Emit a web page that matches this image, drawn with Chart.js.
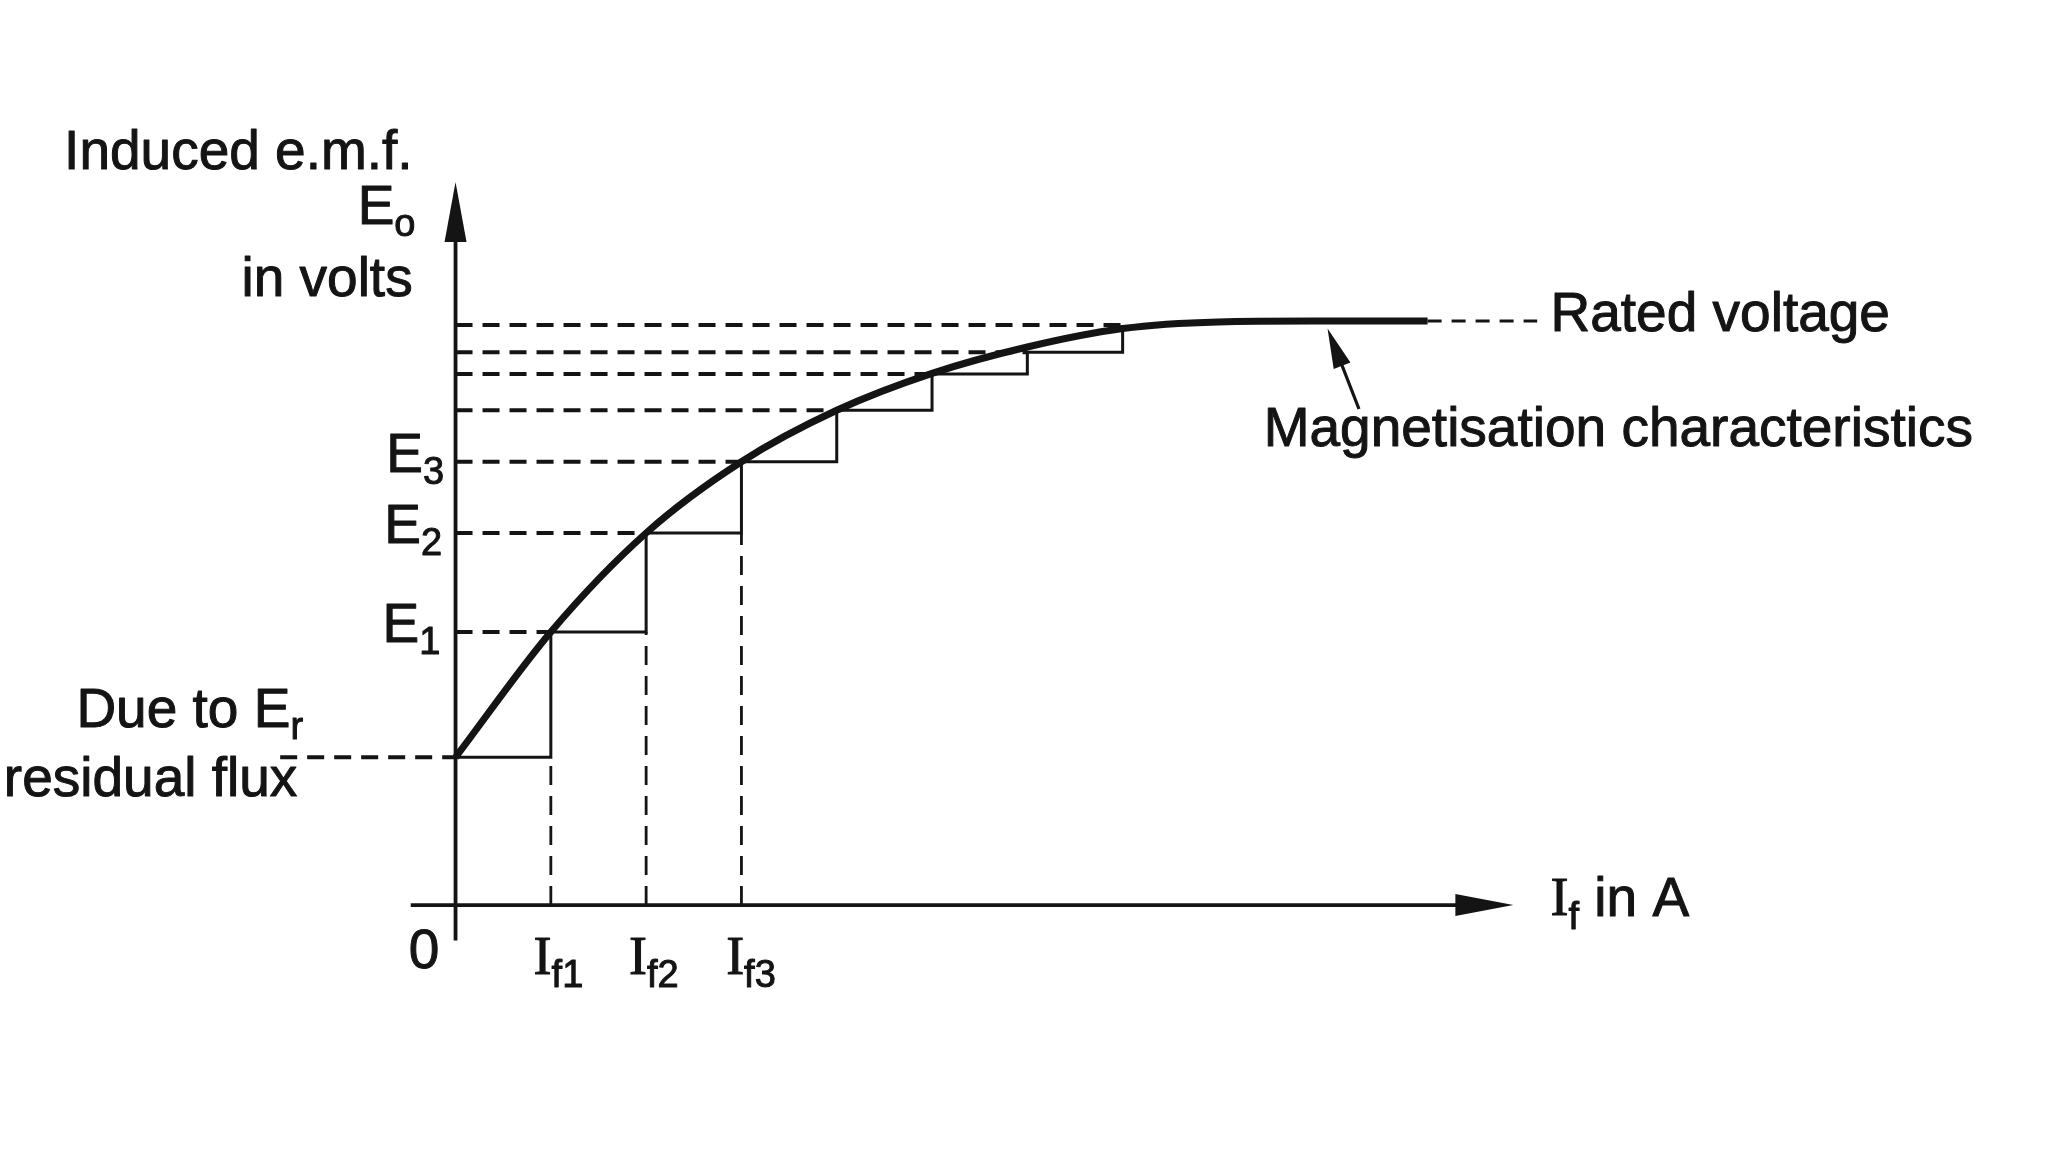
<!DOCTYPE html>
<html>
<head>
<meta charset="utf-8">
<script src="https://cdn.jsdelivr.net/npm/chart.js@4.4.0/dist/chart.umd.min.js"></script>
<style>
html, body { margin: 0; padding: 0; background: #fff; }
#wrap { width: 2048px; height: 1152px; }
</style>
</head>
<body>
<div id="wrap"><canvas id="myCanvas"></canvas></div>
<script>
// field current at each build-up step (If1, If2, ...) and the e.m.f. level of each step
const fieldCurrent = [0, 1, 2, 3, 4, 5, 6, 7];
const emf = [56, 103.5, 141, 168, 187.5, 201.3, 209.5, 219.8];
// magnetisation curve (open circuit characteristic)
const curveCurrent = [0, 1, 2, 3, 4, 5, 6, 7, 8, 9, 10.2];
const curveEmf = [56, 103.5, 141, 168, 187.5, 201.5, 211.5, 218.5, 221, 221.3, 221.3];
const ratedVoltage = 221.3;
const ratedEnd = 11.35;
const residualStart = -1.84;
const currentTicks = ['f1', 'f2', 'f3'];
const emfTicks = ['1', '2', '3'];

const INK = '#141414';
const SANS = '"Liberation Sans", Arial, sans-serif';
const SERIF = '"Liberation Serif", "Times New Roman", serif';

function seg(points, width, dash) {
    return {
        data: points,
        borderColor: INK,
        borderWidth: width,
        borderDash: dash || [],
        pointRadius: 0,
        fill: false,
        tension: 0
    };
}

const datasets = [];

// the magnetisation curve
const curve = curveCurrent.map((v, i) => ({x: v, y: curveEmf[i]}));
datasets.push(Object.assign(seg(curve, 7), {cubicInterpolationMode: 'monotone'}));

// staircase (field resistance steps)
const steps = fieldCurrent.map((v, i) => ({x: v, y: emf[i]}));
datasets.push(Object.assign(seg(steps, 3), {stepped: 'before'}));

// dashed guides to the e.m.f. axis
for (let k = 1; k < fieldCurrent.length; k++) {
    datasets.push(seg([{x: 0, y: emf[k]}, {x: fieldCurrent[k], y: emf[k]}], 4, [17, 10]));
}
datasets.push(seg([{x: residualStart, y: emf[0]}, {x: 0, y: emf[0]}], 4, [17, 10]));
// dashed drops to the current axis
for (let k = 1; k <= currentTicks.length; k++) {
    datasets.push(seg([{x: fieldCurrent[k], y: 0}, {x: fieldCurrent[k], y: emf[k - 1]}], 2.8, [19, 11]));
}
// rated voltage extension
datasets.push(seg([{x: curveCurrent[curveCurrent.length - 1], y: ratedVoltage}, {x: ratedEnd, y: ratedVoltage}], 3, [14, 10]));

// axes
datasets.push(seg([{x: 0, y: -13.4}, {x: 0, y: 255}], 3.8));
datasets.push(seg([{x: -0.47, y: 0}, {x: 10.6, y: 0}], 3.8));

// text: each label is a list of [text, kind] parts, kind: n = normal, s = subscript, i = serif I
const labels = [
    {x: -0.45, y: 284.7, align: 'right', parts: [['Induced e.m.f.', 'n']]},
    {x: -0.42, y: 263.9, align: 'right', parts: [['E', 'n'], ['o', 's']]},
    {x: -0.45, y: 236.6, align: 'right', parts: [['in volts', 'n']]},
    {x: -0.12, y: emf[3] + 2, align: 'right', parts: [['E', 'n'], [emfTicks[2], 's']]},
    {x: -0.14, y: emf[2] + 2, align: 'right', parts: [['E', 'n'], [emfTicks[1], 's']]},
    {x: -0.16, y: emf[1] + 2, align: 'right', parts: [['E', 'n'], [emfTicks[0], 's']]},
    {x: -1.6, y: 73.3, align: 'right', parts: [['Due to E', 'n'], ['r', 's']]},
    {x: -1.66, y: 47, align: 'right', parts: [['residual flux', 'n']]},
    {x: -0.33, y: -18.3, align: 'center', parts: [['0', 'n']]},
    {x: 1.08, y: -20.8, align: 'center', parts: [['I', 'i'], [currentTicks[0], 's']]},
    {x: 2.08, y: -20.8, align: 'center', parts: [['I', 'i'], [currentTicks[1], 's']]},
    {x: 3.1, y: -20.8, align: 'center', parts: [['I', 'i'], [currentTicks[2], 's']]},
    {x: 11.49, y: 1.5, align: 'left', parts: [['I', 'i'], ['f', 's'], [' in A', 'n']]},
    {x: 11.49, y: 223.3, align: 'left', parts: [['Rated voltage', 'n']]},
    {x: 8.48, y: 179.7, align: 'left', parts: [['Magnetisation characteristics', 'n']]}
];

function fontFor(kind) {
    if (kind == 's') return '38px ' + SANS;
    if (kind == 'i') return '54px ' + SERIF;
    return '55px ' + SANS;
}

function arrowHead(ctx, x0, y0, x1, y1, len, half) {
    const a = Math.atan2(y1 - y0, x1 - x0);
    ctx.beginPath();
    ctx.moveTo(x1, y1);
    ctx.lineTo(x1 - len * Math.cos(a) + half * Math.sin(a), y1 - len * Math.sin(a) - half * Math.cos(a));
    ctx.lineTo(x1 - len * Math.cos(a) - half * Math.sin(a), y1 - len * Math.sin(a) + half * Math.cos(a));
    ctx.closePath();
    ctx.fill();
}

const decorPlugin = {
    id: 'decor',
    afterDatasetsDraw(chart) {
        const ctx = chart.ctx;
        const sx = chart.scales.x, sy = chart.scales.y;
        const px = v => sx.getPixelForValue(v);
        const py = v => sy.getPixelForValue(v);
        ctx.save();
        ctx.fillStyle = INK;
        ctx.strokeStyle = INK;

        // axis arrow heads
        arrowHead(ctx, px(0), py(0), px(0), py(274), 60, 11);
        arrowHead(ctx, px(0), py(0), px(11.1), py(0), 58, 11);

        // pointer to the magnetisation curve
        ctx.lineWidth = 3.2;
        ctx.beginPath();
        ctx.moveTo(px(9.48), py(188));
        ctx.lineTo(px(9.2), py(214));
        ctx.stroke();
        arrowHead(ctx, px(9.48), py(188), px(9.15), py(218.5), 40, 9);

        // labels
        ctx.textBaseline = 'middle';
        ctx.textAlign = 'left';
        ctx.lineWidth = 1;
        ctx.lineJoin = 'round';
        labels.forEach(l => {
            let w = 0;
            l.parts.forEach(p => { ctx.font = fontFor(p[1]); w += ctx.measureText(p[0]).width; });
            let x = px(l.x);
            if (l.align == 'right') x -= w;
            if (l.align == 'center') x -= w / 2;
            const y = py(l.y);
            l.parts.forEach(p => {
                ctx.font = fontFor(p[1]);
                const yy = p[1] == 's' ? y + 17 : y;
                ctx.fillText(p[0], x, yy);
                ctx.strokeText(p[0], x, yy);
                x += ctx.measureText(p[0]).width;
            });
        });
        ctx.restore();
    }
};

const ctx = document.getElementById('myCanvas').getContext('2d');
const chart = new Chart(ctx, {
    type: 'line',
    data: {datasets: datasets},
    options: {
        responsive: true,
        maintainAspectRatio: false,
        animation: false,
        layout: {padding: 0},
        plugins: {legend: {display: false}, tooltip: {enabled: false}},
        scales: {
            x: {type: 'linear', min: -4.78, max: 16.71, display: false},
            y: {type: 'linear', min: -93.6, max: 343, display: false}
        }
    },
    plugins: [decorPlugin]
});
</script>
</body>
</html>
